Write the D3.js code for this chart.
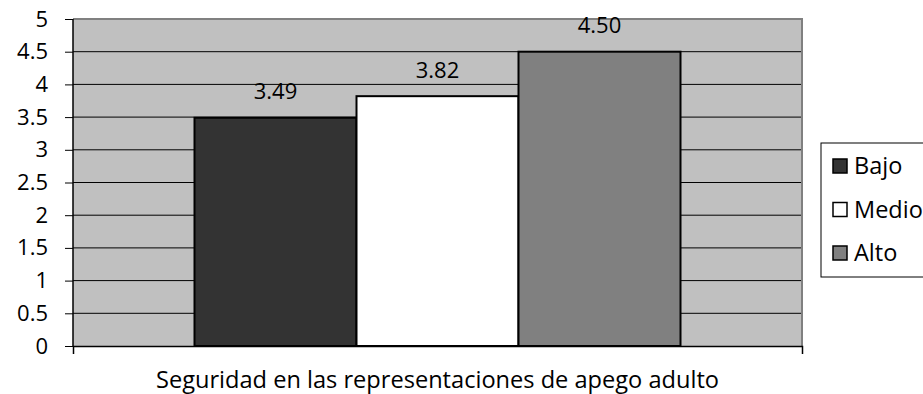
<!DOCTYPE html>
<html>
<head>
<meta charset="utf-8">
<script src="https://cdn.jsdelivr.net/npm/d3@7"></script>
<style>
  html, body { margin: 0; padding: 0; background: #fff; }
  svg { display: block; font-family: "Open Sans", "Liberation Sans", sans-serif; }
</style>
</head>
<body>
<svg id="chart" width="923" height="394"></svg>
<script>
// Chart data
const categories = ["Seguridad en las representaciones de apego adulto"];
const seriesNames = ["Bajo", "Medio", "Alto"];
const seriesValues = [3.49, 3.82, 4.50];
const valueLabels = ["3.49", "3.82", "4.50"];
const yTicks = [0, 0.5, 1, 1.5, 2, 2.5, 3, 3.5, 4, 4.5, 5];
const seriesColors = ["#333333", "#ffffff", "#808080"];

const svg = d3.select("#chart");
const plot = { left: 73, right: 802, top: 19, bottom: 346 };

const y = d3.scaleLinear().domain([0, 5]).range([plot.bottom, plot.top]);
const xCat = d3.scaleBand().domain(categories).range([plot.left, plot.right]).paddingInner(0).paddingOuter(0);
const barGroupWidth = 486;
const xSeries = d3.scaleBand().domain(seriesNames)
  .range([xCat(categories[0]) + (xCat.bandwidth() - barGroupWidth) / 2,
          xCat(categories[0]) + (xCat.bandwidth() + barGroupWidth) / 2])
  .padding(0);

// plot background
svg.append("rect")
  .attr("x", plot.left).attr("y", plot.top)
  .attr("width", plot.right - plot.left).attr("height", plot.bottom - plot.top)
  .attr("fill", "#c0c0c0");

// gridlines
svg.append("g").selectAll("line")
  .data(yTicks.filter(d => d > 0 && d < 5))
  .join("line")
  .attr("x1", plot.left).attr("x2", plot.right)
  .attr("y1", d => y(d)).attr("y2", d => y(d))
  .attr("stroke", "#000").attr("stroke-width", 1);

// top and right frame
svg.append("path")
  .attr("d", `M${plot.left},${plot.top}H${plot.right}V${plot.bottom}`)
  .attr("fill", "none").attr("stroke", "#808080").attr("stroke-width", 2);

// bars
svg.append("g").selectAll("rect")
  .data(seriesValues)
  .join("rect")
  .attr("x", (d, i) => xSeries(seriesNames[i]))
  .attr("y", d => y(d))
  .attr("width", xSeries.bandwidth())
  .attr("height", d => y(0) - y(d))
  .attr("fill", (d, i) => seriesColors[i])
  .attr("stroke", "#000").attr("stroke-width", 2);

// value labels
svg.append("g").selectAll("text")
  .data(seriesValues)
  .join("text")
  .attr("x", (d, i) => xSeries(seriesNames[i]) + xSeries.bandwidth() / 2)
  .attr("y", d => y(d) - 18.5)
  .attr("text-anchor", "middle")
  .attr("font-size", 22)
  .attr("fill", "#000")
  .text((d, i) => valueLabels[i]);

// y axis
const yAxis = d3.axisLeft(y).tickValues(yTicks).tickSize(8).tickPadding(17)
  .tickFormat(d3.format("~g"));
const gy = svg.append("g").attr("transform", `translate(${plot.left},0)`).call(yAxis);
gy.select(".domain").attr("stroke", "#000").attr("stroke-width", 1.5)
  .attr("d", `M0,${plot.top}V${plot.bottom}`);
gy.selectAll(".tick line").attr("stroke", "#000").attr("stroke-width", 1);
gy.selectAll(".tick text").attr("font-size", 22).attr("fill", "#000")
  .attr("font-family", "'Open Sans', sans-serif");

// x axis
const xAxis = d3.axisBottom(xCat).tickValues([]).tickSizeOuter(8);
const gx = svg.append("g").attr("transform", `translate(0,${plot.bottom})`).call(xAxis);
gx.select(".domain").attr("stroke", "#000").attr("stroke-width", 1.5);

svg.append("text")
  .attr("x", xCat(categories[0]) + xCat.bandwidth() / 2)
  .attr("y", 388)
  .attr("text-anchor", "middle")
  .attr("font-size", 23.6)
  .attr("fill", "#000")
  .text(categories[0]);

// legend
const legend = svg.append("g").attr("transform", "translate(821,143)");
legend.append("rect")
  .attr("x", 0).attr("y", 0).attr("width", 120).attr("height", 134)
  .attr("fill", "#fff").attr("stroke", "#000").attr("stroke-width", 1);
const rows = legend.selectAll("g.row").data(seriesNames).join("g")
  .attr("class", "row")
  .attr("transform", (d, i) => `translate(12,${23 + i * 43.5})`);
rows.append("rect")
  .attr("x", 0).attr("y", -7).attr("width", 14).attr("height", 14)
  .attr("fill", (d, i) => seriesColors[i])
  .attr("stroke", "#000").attr("stroke-width", 1.5);
rows.append("text")
  .attr("x", 21).attr("y", 8)
  .attr("font-size", 23.5).attr("fill", "#000")
  .text(d => d);
</script>
</body>
</html>
